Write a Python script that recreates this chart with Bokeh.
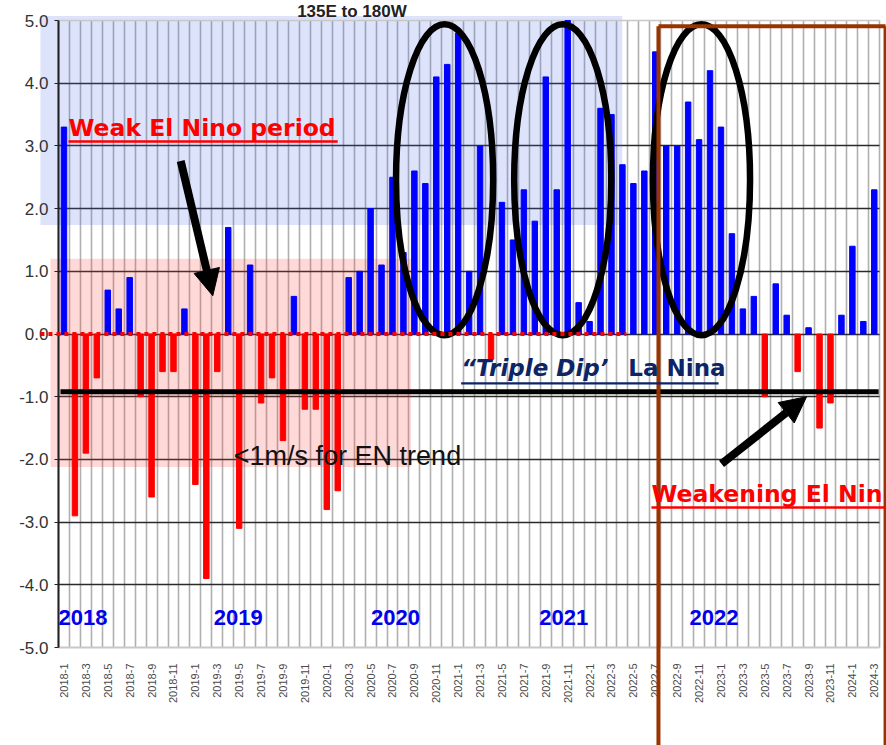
import math
from bokeh.plotting import figure
from bokeh.models import (Range1d, FixedTicker, Label, BoxAnnotation, Arrow,
                          NormalHead, ColumnDataSource, NumeralTickFormatter)
from bokeh.embed import file_html
from bokeh.resources import INLINE

# ---------------- data ----------------
months = [f"{y}-{m}" for y in range(2018, 2025) for m in range(1, 13)][:75]

wind_anomaly = [
    3.3, -2.9, -1.9, -0.7, 0.7, 0.4, 0.9, -1.0, -2.6, -0.6, -0.6, 0.4,      # 2018
    -2.4, -3.9, -0.6, 1.7, -3.1, 1.1, -1.1, -0.7, -1.7, 0.6, -1.2, -1.2,    # 2019
    -2.8, -2.5, 0.9, 1.0, 2.0, 1.1, 2.5, 1.3, 2.6, 2.4, 4.1, 4.3,           # 2020
    4.8, 1.0, 3.0, -0.4, 2.1, 1.5, 2.3, 1.8, 4.1, 2.3, 5.0, 0.5,            # 2021
    0.2, 3.6, 3.5, 2.7, 2.4, 2.6, 4.5, 3.0, 3.0, 3.7, 3.1, 4.2,             # 2022
    3.3, 1.6, 0.4, 0.6, -1.0, 0.8, 0.3, -0.6, 0.1, -1.5, -1.1, 0.3,         # 2023
    1.4, 0.2, 2.3,                                                          # 2024
]
y_ticks = [-5, -4, -3, -2, -1, 0, 1, 2, 3, 4, 5]
x_tick_idx = list(range(0, 75, 2))
year_labels = ["2018", "2019", "2020", "2021", "2022"]
year_label_x = [-0.5, 13.68, 28.04, 43.40, 57.12]

idx = list(range(len(months)))
colors = ["#0000ff" if v > 0 else "#ff0000" for v in wind_anomaly]
src = ColumnDataSource(dict(x=idx, top=wind_anomaly, color=colors, month=months))

SANS = "Liberation Sans"
VERD = "DejaVu Sans"

# frame covers whole canvas; axes are placed at fixed data locations
p = figure(width=886, height=745, x_range=Range1d(-5.797, 75.116),
           y_range=Range1d(-6.563, 5.319), min_border=0,
           output_backend="svg", toolbar_location=None)
p.background_fill_color = "white"
p.border_fill_color = "white"
p.outline_line_color = None

# grids
p.xgrid.ticker = FixedTicker(ticks=[i - 0.5 for i in range(76)])
p.xgrid.grid_line_color = "#b0b0b0"
p.xgrid.grid_line_width = 1.6
p.xgrid.cross_bounds = (-5, 5)
p.ygrid.ticker = FixedTicker(ticks=[t for t in y_ticks if -5 < t < 5])
p.ygrid.grid_line_color = "#2a2a2a"
p.ygrid.grid_line_width = 1.6
p.ygrid.cross_bounds = (-0.5, 74.5)

# axes
p.yaxis.fixed_location = -0.5
p.yaxis.bounds = (-5, 5)
p.yaxis.ticker = FixedTicker(ticks=y_ticks)
p.yaxis.formatter = NumeralTickFormatter(format="0.0")
p.yaxis.major_label_text_font = SANS
p.yaxis.major_label_text_font_size = "17px"
p.yaxis.major_label_text_color = "#333333"
p.yaxis.axis_line_color = "#222222"
p.yaxis.axis_line_width = 2
p.yaxis.major_tick_out = 4
p.yaxis.major_tick_in = 0
p.yaxis.major_tick_line_color = "#222222"
p.yaxis.minor_tick_line_color = None
p.yaxis.major_label_standoff = 6

p.xaxis.fixed_location = -5
p.xaxis.bounds = (-0.5, 74.5)
p.xaxis.ticker = FixedTicker(ticks=x_tick_idx)
p.xaxis.major_label_overrides = {i: months[i] for i in x_tick_idx}
p.xaxis.major_label_orientation = math.pi / 2
p.xaxis.major_label_text_font = SANS
p.xaxis.major_label_text_font_size = "11px"
p.xaxis.major_label_text_color = "#4a4a4a"
p.xaxis.axis_line_color = "#c8c8c8"
p.xaxis.axis_line_width = 2
p.xaxis.major_tick_line_color = None
p.xaxis.minor_tick_line_color = None
p.xaxis.major_label_standoff = 10

# shaded regions
p.add_layout(BoxAnnotation(left=-2.15, right=50.99, top=5.07, bottom=1.74,
                           fill_color="#4664f0", fill_alpha=0.18, line_color=None,
                           level="underlay"))
p.add_layout(BoxAnnotation(left=-1.23, right=31.7, top=1.2, bottom=-2.12,
                           fill_color="#ff3c3c", fill_alpha=0.2, line_color=None,
                           level="underlay"))

# top frame edge
p.segment(x0=[-0.5], y0=[5], x1=[74.5], y1=[5], line_color="#c8c8c8", line_width=1.5)

# bars
p.vbar(x="x", top="top", width=0.5, color="color", source=src)

# ellipses
p.ellipse(x=[34.76, 45.55, 58.22], y=[2.46, 2.46, 2.46], width=[8.87, 8.87, 8.87],
          height=[4.96, 4.96, 4.96], fill_alpha=0, line_color="black", line_width=6.5)

def seg(x0, y0, x1, y1, color, width, dash="solid"):
    p.add_layout(Arrow(end=None, x_start=x0, y_start=y0, x_end=x1, y_end=y1,
                       line_color=color, line_width=width, line_dash=dash))

# zero red dotted line, black threshold line
seg(-2.15, 0, 51.36, 0, "#ff0000", 4, "4 4")
seg(-0.32, -0.92, 74.4, -0.92, "#000000", 5)

# brown box
seg(54.29, 4.91, 54.29, -6.7, "#993300", 4)
seg(54.29, 4.91, 75.03, 4.91, "#993300", 4)
seg(75.03, 4.91, 75.03, -6.7, "#993300", 4)

# arrows
for xs, ys, xe, ye in [(10.66, 2.76, 13.59, 0.61), (60.05, -2.07, 67.82, -1.0)]:
    p.add_layout(Arrow(end=NormalHead(size=26, fill_color="black", line_color="black"),
                       x_start=xs, y_start=ys, x_end=xe, y_end=ye,
                       line_color="black", line_width=8))

# texts (y = vertical centre of the text)
def lab(x, y, text, color, font, size, style="bold", align="left"):
    p.add_layout(Label(x=x, y=y, text=text, text_color=color, text_font=font,
                       text_font_size=size, text_font_style=style, text_align=align,
                       text_baseline="middle"))

lab(26.3, 5.15, "135E to 180W", "#222222", SANS, "17px", "bold", "center")
lab(0.415, 3.278, "Weak El Nino period", "#ff0000", VERD, "23.5px")
seg(0.415, 3.07, 25.0, 3.07, "#ff0000", 2.5)
lab(36.27, -0.542, "\u201cTriple Dip\u2019", "#0b2566", VERD, "23px", "bold italic")
lab(51.54, -0.542, "La Nina", "#0b2566", VERD, "23px", "bold")
seg(36.27, -0.789, 59.78, -0.789, "#0b2566", 2.2)
lab(15.51, -1.938, "<1m/s for EN trend", "#111111", SANS, "27px", "normal")
lab(53.65, -2.544, "Weakening El Nin", "#ff0000", VERD, "23.5px")
seg(53.65, -2.767, 75.2, -2.767, "#ff0000", 2.5)

for yl, xl in zip(year_labels, year_label_x):
    lab(xl, -4.522, yl, "#0000ee", SANS, "22px", "bold")

open("out.html", "w").write(file_html(p, INLINE))
